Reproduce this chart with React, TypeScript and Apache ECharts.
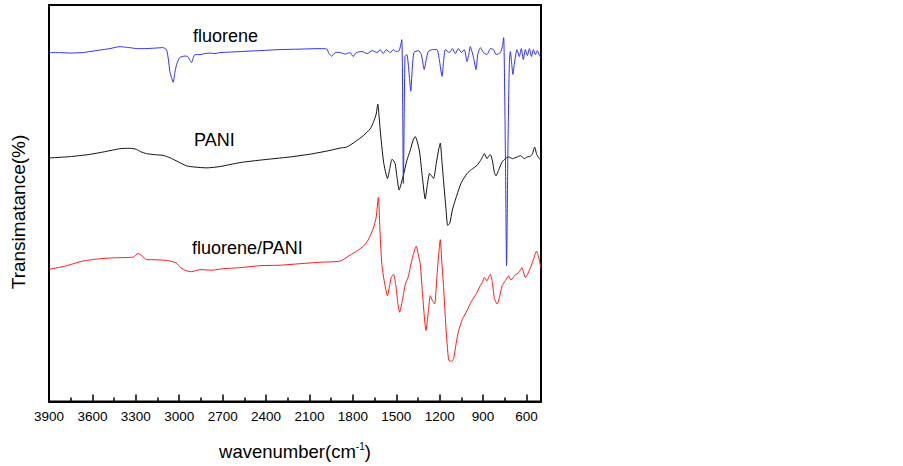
import React, { useEffect, useRef } from 'react';
import * as echarts from 'echarts';

// Tick labels of the wavenumber axis (major ticks every 300 cm-1, minor every 150)
const xTickLabels = [3900, 3600, 3300, 3000, 2700, 2400, 2100, 1800, 1500, 1200, 900, 600];
const xRange = [500, 3900];

const seriesNames = ['fluorene', 'PANI', 'fluorene/PANI'];

// [wavenumber (cm-1), transmittance (arbitrary, offset curves)]
const fluorene: number[][] = [
  [3900, 352], [3826, 352], [3757, 351.5], [3667, 352], [3618, 353], [3549, 354.5], [3480, 356], [3411, 358],
  [3376, 357.5], [3342, 357], [3293, 356], [3238, 356], [3169, 356.5], [3113, 357], [3088, 355], [3075, 345],
  [3065, 333], [3054, 327], [3042, 322], [3030, 332], [3018, 340], [2996, 347], [2961, 348.5], [2940, 348],
  [2926, 344], [2915, 342], [2902, 347], [2892, 350], [2857, 350], [2823, 351], [2788, 351.5], [2753, 351],
  [2719, 352], [2650, 352.5], [2581, 353], [2442, 354], [2304, 355], [2165, 355.5], [2027, 356], [1981, 355.7],
  [1965, 351], [1946, 348.3], [1930, 351], [1912, 352.3], [1888, 352], [1853, 350.5], [1819, 352], [1798, 348],
  [1777, 352], [1736, 353], [1701, 351], [1667, 354], [1632, 352], [1611, 355], [1590, 351], [1570, 355],
  [1542, 352], [1521, 355], [1501, 353], [1480, 354], [1462, 365], [1451, 220], [1440, 348], [1427, 350],
  [1411, 330], [1400, 313], [1390, 335], [1378, 352], [1348, 354], [1327, 350], [1307, 335], [1293, 345],
  [1279, 353], [1251, 355], [1219, 355], [1203, 345], [1184, 328], [1172, 345], [1161, 355], [1133, 352],
  [1113, 356], [1092, 351], [1071, 356], [1050, 352], [1030, 355], [1011, 343], [999, 350], [989, 358],
  [968, 348], [949, 335], [937, 350], [919, 357], [898, 352], [873, 350], [850, 356], [829, 355],
  [809, 350], [781, 352], [767, 358], [758, 367], [746, 250], [738, 137], [729, 250], [719, 340],
  [712, 353], [702, 340], [694, 330], [685, 340], [666, 355], [650, 348], [636, 356], [622, 345],
  [608, 355], [594, 349], [580, 356], [566, 348], [553, 355], [539, 350], [525, 354], [511, 349], [500, 347],
];

const pani: number[][] = [
  [3900, 245.7], [3757, 247], [3618, 249.3], [3515, 252], [3411, 255], [3342, 255.5], [3295, 254.3], [3266, 252],
  [3226, 250], [3169, 249], [3113, 248.3], [3065, 246], [3010, 242], [2949, 237.7], [2892, 236.5], [2811, 235.7],
  [2719, 237], [2581, 241], [2442, 243.5], [2235, 246.7], [2096, 249.5], [1958, 253.3], [1888, 255.7], [1842, 256.7],
  [1785, 262], [1727, 268.3], [1681, 275], [1658, 281.7], [1639, 290], [1628, 300], [1612, 275], [1588, 241.7],
  [1561, 225], [1545, 235], [1530, 244.3], [1518, 243], [1508, 240], [1494, 225], [1480, 213.3], [1466, 220],
  [1451, 228.3], [1427, 243], [1404, 253.3], [1383, 264], [1369, 267.3], [1355, 262], [1339, 251.7], [1321, 228],
  [1300, 204.3], [1286, 218], [1270, 230], [1258, 228], [1242, 225], [1224, 240], [1206, 255], [1196, 260.7],
  [1185, 243], [1173, 221.7], [1157, 195], [1145, 177.7], [1130, 180], [1113, 193], [1081, 208.3], [1050, 221],
  [1011, 230], [981, 234], [942, 238.3], [919, 243], [906, 246], [892, 250], [873, 245], [860, 248],
  [850, 249], [836, 243], [822, 231], [811, 227.7], [794, 233], [769, 241.7], [746, 245], [723, 246.7],
  [697, 245], [666, 246.7], [642, 248], [615, 245], [596, 246.7], [573, 247.5], [559, 250], [544, 256.7],
  [531, 250], [517, 246], [500, 243.3],
];

const fluorenePani: number[][] = [
  [3900, 133.3], [3791, 136.5], [3665, 141.7], [3549, 144], [3445, 145], [3317, 145.7], [3284, 149.3], [3259, 147],
  [3226, 143.3], [3169, 143], [3099, 142.5], [3065, 141.7], [3023, 140], [2989, 135], [2954, 132], [2915, 131],
  [2857, 133], [2774, 132.5], [2694, 134], [2581, 135], [2442, 137], [2304, 137.5], [2165, 139], [2027, 140.5],
  [1888, 141.7], [1819, 147.7], [1771, 152], [1727, 156.7], [1694, 163], [1658, 175], [1639, 186], [1624, 206],
  [1612, 170], [1600, 138.3], [1584, 122], [1561, 106.7], [1545, 118], [1535, 125], [1519, 128.3], [1504, 118],
  [1490, 100], [1477, 90], [1458, 102], [1438, 118], [1417, 126], [1404, 135], [1383, 148], [1362, 156.7],
  [1348, 148], [1334, 138.3], [1317, 105], [1295, 71.7], [1279, 90], [1265, 106.7], [1251, 102], [1235, 98.3],
  [1220, 125], [1206, 150], [1196, 163.3], [1185, 140], [1173, 115], [1157, 75], [1138, 41.7], [1120, 40.5],
  [1104, 43.3], [1085, 60], [1069, 71.7], [1043, 83], [1011, 91.7], [981, 101], [942, 110], [919, 117],
  [906, 120], [892, 125], [873, 121.7], [860, 126], [850, 128.3], [836, 120], [822, 104], [803, 98.3],
  [787, 105], [769, 116.7], [746, 122], [723, 126.7], [712, 123], [700, 123.3], [684, 127], [664, 129],
  [650, 131], [631, 135], [622, 131], [608, 125], [594, 128], [573, 135], [553, 143], [531, 151.7],
  [517, 146], [500, 134.3],
];

const seriesColors = ['#2f2fff', '#111111', '#ff1a1a'];

export default function App() {
  const ref = useRef<HTMLDivElement>(null);

  useEffect(() => {
    if (!ref.current) return;
    const chart = echarts.init(ref.current, null, { renderer: 'svg' });
    const font = "'Liberation Sans', Arial, sans-serif";
    const datasets = [fluorene, pani, fluorenePani];
    // the axis runs from high to low wavenumber: plot -wavenumber so ticks start at 3900
    const step = xTickLabels[0] - xTickLabels[1];

    chart.setOption({
      animation: false,
      backgroundColor: '#ffffff',
      grid: {
        left: 49, right: 362, top: 5, bottom: 61,
        show: true, borderColor: '#000', borderWidth: 2, backgroundColor: 'transparent',
      },
      xAxis: {
        type: 'value', min: -xRange[1], max: -xRange[0], interval: step, position: 'bottom',
        axisLine: { show: true, lineStyle: { color: '#000', width: 2 } },
        axisTick: { show: true, inside: true, length: 7, lineStyle: { color: '#000', width: 1.5 } },
        minorTick: { show: true, splitNumber: 2, length: 4, lineStyle: { color: '#000', width: 1.5 } },
        axisLabel: {
          color: '#000', fontSize: 13.5, fontFamily: font, margin: 8,
          showMaxLabel: false,
          formatter: (v: number) => (xTickLabels.includes(-v) ? String(-v) : ''),
        },
        splitLine: { show: false },
        minorSplitLine: { show: false },
        name: '{a|wavenumber(cm}{s|-1}{a|)}',
        nameLocation: 'middle', nameGap: 40,
        nameTextStyle: {
          rich: {
            a: { fontSize: 18.5, fontFamily: font, color: '#000', lineHeight: 20 },
            s: { fontSize: 10, fontFamily: font, color: '#000', verticalAlign: 'top', lineHeight: 20 },
          },
        },
      },
      yAxis: {
        type: 'value', min: 0, max: 400,
        axisLine: { show: true, lineStyle: { color: '#000', width: 2 } },
        axisTick: { show: false }, axisLabel: { show: false }, splitLine: { show: false },
      },
      series: datasets.map((d, i) => ({
        name: seriesNames[i],
        type: 'line',
        data: d.map(([w, t]) => [-w, t]),
        showSymbol: false,
        symbol: 'none',
        smooth: 0.2,
        lineStyle: { color: seriesColors[i], width: 1 },
        itemStyle: { color: seriesColors[i] },
        z: i === 0 ? 3 : 2,
      })),
      graphic: [
        { type: 'text', left: 193, top: 27, style: { text: seriesNames[0], fontSize: 18, fontFamily: font, fill: '#000' } },
        { type: 'text', left: 194, top: 131, style: { text: seriesNames[1], fontSize: 18, fontFamily: font, fill: '#000' } },
        { type: 'text', left: 192, top: 239, style: { text: seriesNames[2], fontSize: 18, fontFamily: font, fill: '#000' } },
        {
          type: 'text', x: 18, y: 212, rotation: Math.PI / 2,
          style: { text: 'Transimatance(%)', fontSize: 19, fontFamily: font, fill: '#000', textAlign: 'center', textVerticalAlign: 'middle' },
        },
      ],
    });

    return () => chart.dispose();
  }, []);

  return <div ref={ref} style={{ position: 'fixed', left: 0, top: 0, width: 903, height: 466 }} />;
}
